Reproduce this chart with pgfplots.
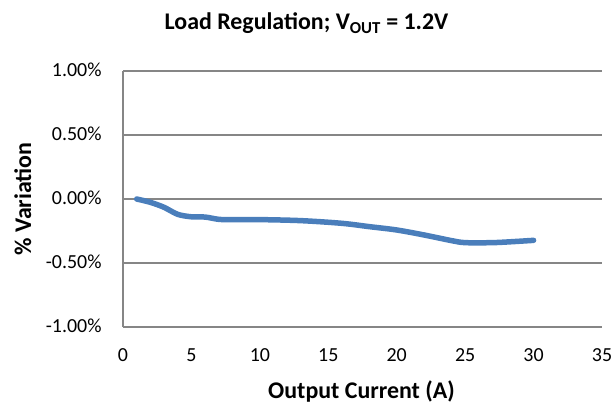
\documentclass[border=0pt]{standalone}
\usepackage{pgfplots}
\pgfplotsset{compat=1.18}
\usepackage{fontspec}
\setmainfont{Carlito}
\definecolor{series}{HTML}{4A7EBB}
\definecolor{gridc}{HTML}{868686}
\begin{document}
\begin{tikzpicture}[x=1bp,y=1bp]
\useasboundingbox (0,0) rectangle (615,403);
\begin{axis}[
  at={(123bp,76bp)}, anchor=south west,
  scale only axis, width=479bp, height=256bp,
  xmin=0, xmax=35, ymin=-1, ymax=1,
  xtick={0,5,...,35}, xticklabels={0,5,10,15,20,25,30,35},
  ytick={-1,-0.5,0,0.5,1},
  yticklabels={-1.00\%,-0.50\%,0.00\%,0.50\%,1.00\%},
  axis x line=bottom, axis y line=left,
  axis line style={gridc, line width=1.3bp, -},
  major tick length=0pt,
  ymajorgrids, grid style={gridc, line width=1.3bp},
  tick label style={font=\fontsize{20}{24}\selectfont, inner sep=0pt, text=black},
  xticklabel style={anchor=base, yshift=-34.7bp},
  yticklabel style={anchor=base east, xshift=-21.3bp, yshift=-5.7bp},
  clip=false,
]
\addplot[series, line width=5.5bp, smooth, tension=0.5, line cap=round, line join=round] coordinates {
  (1,0) (2,-0.026) (3,-0.065) (4,-0.12) (5,-0.139) (6,-0.141) (7,-0.159)
  (8,-0.161) (10,-0.161) (13,-0.169) (16,-0.19) (18,-0.216) (20,-0.242)
  (22,-0.281) (24,-0.325) (25,-0.341) (27,-0.341) (28.5,-0.333) (30,-0.323)
};
\end{axis}
\node[anchor=base, font=\bfseries\fontsize{24}{28}\selectfont] at (306.5,373.7) {Load Regulation; V\textsubscript{OUT} = 1.2V};
\node[anchor=base, font=\bfseries\fontsize{24}{28}\selectfont] at (361.5,4.7) {Output Current (A)};
\node[anchor=base, rotate=90, font=\bfseries\fontsize{24}{28}\selectfont] at (31,204) {\% Variation};
\end{tikzpicture}
\end{document}
